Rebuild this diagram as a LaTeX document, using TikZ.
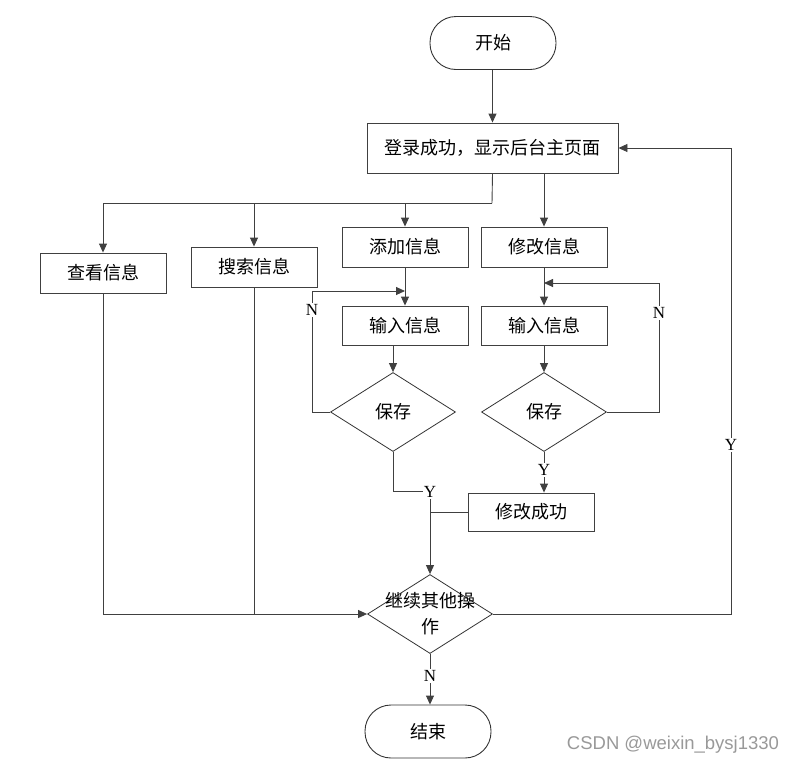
\documentclass[tikz,border=0pt]{standalone}
\usepackage{fontspec}
\setmainfont{Liberation Serif}
\newfontfamily\cjk{Noto Sans CJK SC}
\newfontfamily\wmfont{Liberation Sans}
\usetikzlibrary{shapes.geometric,arrows.meta}
\begin{document}
\begin{tikzpicture}[x=1pt,y=-1pt,
  ln/.style={draw=black!75, line width=0.9pt},
  arr/.style={ln, -{Triangle[length=9pt,width=8pt]}},
  box/.style={draw=black!75, line width=0.9pt, rectangle, minimum width=126pt, minimum height=39pt, inner sep=0pt, font=\cjk\fontsize{18}{21}\selectfont},
  pill/.style={draw=black!80, line width=0.9pt, rectangle, rounded corners=26pt, minimum width=126pt, minimum height=53pt, inner sep=0pt, font=\cjk\fontsize{18}{21}\selectfont},
  dia/.style={draw=black!80, line width=0.8pt, diamond, minimum width=125pt, minimum height=79pt, inner sep=0pt, font=\cjk\fontsize{18}{21}\selectfont},
  yn/.style={fill=white, inner sep=1pt, font=\fontsize{17}{19}\selectfont}
]
\useasboundingbox (0,0) rectangle (797,764);

% nodes
\node[pill] (start) at (493,43) {开始};
\node[box, minimum width=251pt, minimum height=50pt] (main) at (492.5,148) {登录成功，显示后台主页面};
\node[box, minimum height=40pt] (view) at (103,273) {查看信息};
\node[box, minimum height=40pt] (search) at (254,267) {搜索信息};
\node[box, minimum height=40pt] (add) at (405,247) {添加信息};
\node[box, minimum height=40pt] (modify) at (544,247) {修改信息};
\node[box] (inL) at (405,325.5) {输入信息};
\node[box] (inR) at (544,325.5) {输入信息};
\node[dia] (saveL) at (393,412) {保存};
\node[dia] (saveR) at (544,412) {保存};
\node[box, minimum height=38pt] (modok) at (531,512) {修改成功};
\node[dia, label={[font=\cjk\fontsize{18}{26}\selectfont, align=center]center:继续其他操\\作}] (cont) at (430,614) {};
\node[pill] (fin) at (428,731.5) {结束};

\coordinate (br) at (492,203);
\coordinate (nL) at (312,291);
\coordinate (nR) at (659,283);
\coordinate (yL) at (430,491);
\coordinate (loopR) at (731,148);

% connectors
\draw[arr] (start.south -| main.north) -- (main.north);
\draw[ln] (main.south) -- (br);
\draw[arr] (br) -| (view.north);
\draw[arr] (br) -| (search.north);
\draw[arr] (br) -| (add.north);
\draw[arr] (main.south -| modify.north) -- (modify.north);
\draw[arr] (add.south) -- (inL.north);
\draw[arr] (modify.south) -- (inR.north);
\draw[arr] (inL.south -| saveL.north) -- (saveL.north);
\draw[arr] (inR.south) -- (saveR.north);
\draw[arr] (saveL.west) -| (nL) -- (nL -| inL.north);
\draw[arr] (saveR.east) -| (nR) -- (nR -| inR.north);
\draw[arr] (saveL.south) |- (yL) -- (cont.north);
\draw[arr] (saveR.south) -- (modok.north -| saveR.south);
\draw[ln] (modok.west) -- (modok.west -| cont.north);
\draw[arr] (view.south) |- (cont.west);
\draw[ln] (search.south) -- (search.south |- cont.west);
\draw[arr] (cont.east) -| (loopR) -- (main.east);
\draw[arr] (cont.south) -- (cont.south |- fin.north);

% labels
\node[yn] (lN1) at (312,310) {N};
\node[yn] (lN2) at (659,313) {N};
\node[yn] (lY1) at (430,492) {Y};
\node[yn] (lY2) at (544,470) {Y};
\node[yn] (lY3) at (731,445) {Y};
\node[yn] (lN3) at (430,676) {N};

\node[text=black!40, font=\wmfont\fontsize{18.5}{21}\selectfont, inner sep=0pt] (wm) at (673,745) {CSDN @weixin\_bysj1330};
\end{tikzpicture}
\end{document}
